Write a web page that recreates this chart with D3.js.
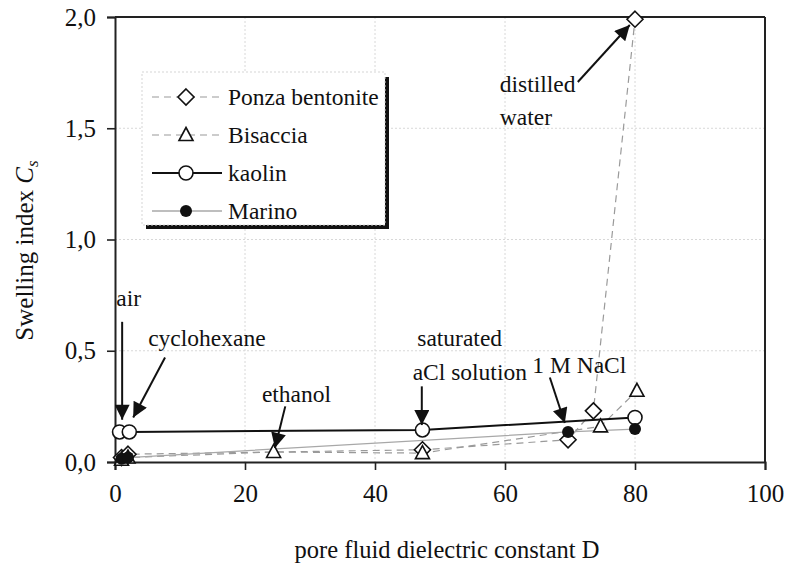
<!DOCTYPE html>
<html>
<head>
<meta charset="utf-8">
<script src="https://cdn.jsdelivr.net/npm/d3@7"></script>
<style>
	body { margin: 0; background: #fff; }
	svg text { font-family: "Liberation Serif", "Times New Roman", serif; fill: #111; }
</style>
</head>
<body>
<svg id="chart" width="788" height="567"></svg>
<script>

// Data

var xTicks = [0, 20, 40, 60, 80, 100];
var yTicks = [0, 0.5, 1.0, 1.5, 2.0];

var ponzaD = [1, 2, 47.3, 69.7, 73.6, 80];
var ponzaCs = [0.02, 0.035, 0.055, 0.10, 0.23, 1.99];

var bisacciaD = [1, 2, 24.4, 47.3, 74.7, 80.3];
var bisacciaCs = [0.01, 0.02, 0.045, 0.04, 0.16, 0.32];

var kaolinD = [0.7, 2.2, 47.3, 80];
var kaolinCs = [0.135, 0.135, 0.144, 0.20];

var marinoD = [1, 2, 69.7, 80];
var marinoCs = [0.015, 0.02, 0.135, 0.148];

var seriesNames = ["Ponza bentonite", "Bisaccia", "kaolin", "Marino"];

// annotation labels: text lines at [D, Cs], arrow from tail to tip
var notes = [
	{ lines: [["air", 0.2, 0.70]], tail: [1.1, 0.63], tip: [1.1, 0.19] },
	{ lines: [["cyclohexane", 5.1, 0.52]], tail: [7.7, 0.47], tip: [2.8, 0.20] },
	{ lines: [["ethanol", 22.6, 0.27]], tail: [26.2, 0.25], tip: [24.6, 0.063] },
	{ lines: [["saturated", 46.5, 0.52], ["aCl solution", 45.8, 0.37]], tail: [47.2, 0.34], tip: [47.2, 0.166] },
	{ lines: [["1 M NaCl", 64.2, 0.40]], tail: [66.9, 0.38], tip: [69.2, 0.175] },
	{ lines: [["distilled", 59.2, 1.663], ["water", 59.2, 1.515]], tail: [71.2, 1.708], tip: [79.2, 1.964] }
];

// Chart

var svg = d3.select("#chart");
var mLeft = 115, mRight = 765, mTop = 17, mBottom = 462;

var x = d3.scaleLinear().domain([0, 100]).range([mLeft, mRight]);
var y = d3.scaleLinear().domain([0, 2]).range([mBottom, mTop]);

function zip(ds, cs) {
	return ds.map(function(d, i) { return [d, cs[i]]; });
}

var series = [
	{ name: seriesNames[0], pts: zip(ponzaD, ponzaCs), marker: "diamond", stroke: "#9a9a9a", width: 1.2, dash: "7,5" },
	{ name: seriesNames[1], pts: zip(bisacciaD, bisacciaCs), marker: "triangle", stroke: "#9a9a9a", width: 1.2, dash: "7,5" },
	{ name: seriesNames[2], pts: zip(kaolinD, kaolinCs), marker: "circle", stroke: "#111", width: 2, dash: null },
	{ name: seriesNames[3], pts: zip(marinoD, marinoCs), marker: "dot", stroke: "#a8a8a8", width: 1.3, dash: null }
];

// grid
svg.append("g").selectAll("line").data(xTicks.slice(1, -1)).join("line")
	.attr("x1", function(d) { return x(d); }).attr("x2", function(d) { return x(d); })
	.attr("y1", mTop).attr("y2", mBottom)
	.attr("stroke", "#d8d8d8").attr("stroke-dasharray", "2,2");
svg.append("g").selectAll("line").data(yTicks.slice(1, -1)).join("line")
	.attr("x1", mLeft).attr("x2", mRight)
	.attr("y1", function(d) { return y(d); }).attr("y2", function(d) { return y(d); })
	.attr("stroke", "#d8d8d8").attr("stroke-dasharray", "2,2");

// axes
var fmt = function(d) { return d3.format(".1f")(d).replace(".", ","); };

var xAxis = svg.append("g").attr("transform", "translate(0," + mBottom + ")")
	.call(d3.axisBottom(x).tickValues(xTicks).tickSize(8).tickPadding(14));
var yAxis = svg.append("g").attr("transform", "translate(" + mLeft + ",0)")
	.call(d3.axisLeft(y).tickValues(yTicks).tickSize(8).tickPadding(11).tickFormat(fmt));

[xAxis, yAxis].forEach(function(a) {
	a.select(".domain").attr("stroke", "#222").attr("stroke-width", 2);
	a.selectAll(".tick line").attr("stroke", "#222").attr("stroke-width", 1.6);
	a.selectAll(".tick text").style("font-family", "Liberation Serif").style("font-size", "25px").attr("fill", "#111");
});

// frame top and right
svg.append("line").attr("x1", mLeft).attr("x2", mRight).attr("y1", mTop).attr("y2", mTop)
	.attr("stroke", "#222").attr("stroke-width", 2);
svg.append("line").attr("x1", mRight).attr("x2", mRight).attr("y1", mTop).attr("y2", mBottom)
	.attr("stroke", "#222").attr("stroke-width", 2);

// lines
var line = d3.line().x(function(d) { return x(d[0]); }).y(function(d) { return y(d[1]); });

series.forEach(function(s) {
	svg.append("path").datum(s.pts).attr("d", line)
		.attr("fill", "none").attr("stroke", s.stroke).attr("stroke-width", s.width)
		.attr("stroke-dasharray", s.dash);
});

function drawMarker(g, type, cx, cy) {
	if (type == "diamond") {
		g.append("path").attr("d", "M" + cx + "," + (cy - 8) + "L" + (cx + 8) + "," + cy + "L" + cx + "," + (cy + 8) + "L" + (cx - 8) + "," + cy + "Z")
			.attr("fill", "#fff").attr("stroke", "#111").attr("stroke-width", 1.6);
	} else if (type == "triangle") {
		g.append("path").attr("d", "M" + cx + "," + (cy - 7.5) + "L" + (cx + 7) + "," + (cy + 5.5) + "L" + (cx - 7) + "," + (cy + 5.5) + "Z")
			.attr("fill", "#fff").attr("stroke", "#111").attr("stroke-width", 1.6);
	} else if (type == "circle") {
		g.append("circle").attr("cx", cx).attr("cy", cy).attr("r", 7)
			.attr("fill", "#fff").attr("stroke", "#111").attr("stroke-width", 1.6);
	} else {
		g.append("circle").attr("cx", cx).attr("cy", cy).attr("r", 6).attr("fill", "#111");
	}
}

var marks = svg.append("g");
[0, 1, 2, 3].forEach(function(i) {
	var s = series[i];
	s.pts.forEach(function(p) { drawMarker(marks, s.marker, x(p[0]), y(p[1])); });
});

// annotations
svg.append("defs").append("marker").attr("id", "head")
	.attr("viewBox", "0 0 10 10").attr("refX", 10).attr("refY", 5)
	.attr("markerWidth", 18).attr("markerHeight", 15).attr("markerUnits", "userSpaceOnUse")
	.attr("orient", "auto")
	.append("path").attr("d", "M0,0L10,5L0,10Z").attr("fill", "#111");

notes.forEach(function(n) {
	n.lines.forEach(function(l) {
		svg.append("text").attr("x", x(l[1])).attr("y", y(l[2]))
			.style("font-size", "23.5px").text(l[0]);
	});
	svg.append("line")
		.attr("x1", x(n.tail[0])).attr("y1", y(n.tail[1]))
		.attr("x2", x(n.tip[0])).attr("y2", y(n.tip[1]))
		.attr("stroke", "#111").attr("stroke-width", 2).attr("marker-end", "url(#head)");
});

// legend
var lg = svg.append("g");
lg.append("line").attr("x1", 387).attr("x2", 387).attr("y1", 77).attr("y2", 229).attr("stroke", "#111").attr("stroke-width", 4);
lg.append("line").attr("x1", 146).attr("x2", 389).attr("y1", 227).attr("y2", 227).attr("stroke", "#111").attr("stroke-width", 4);
lg.append("rect").attr("x", 142).attr("y", 72).attr("width", 243).attr("height", 153)
	.attr("fill", "#fff").attr("stroke", "#d5d5d5").attr("stroke-dasharray", "2,2");

var rowY = d3.scalePoint().domain(seriesNames).range([97, 211]);

series.forEach(function(s) {
	var ry = rowY(s.name);
	lg.append("line").attr("x1", 152).attr("x2", 222).attr("y1", ry).attr("y2", ry)
		.attr("stroke", s.stroke).attr("stroke-width", s.width).attr("stroke-dasharray", s.dash);
	drawMarker(lg, s.marker, 186, ry);
	lg.append("text").attr("x", 228).attr("y", ry + 8).style("font-size", "23.5px").text(s.name);
});

// axis titles
svg.append("text").attr("x", (mLeft + mRight) / 2 + 7).attr("y", 558)
	.attr("text-anchor", "middle").style("font-size", "24.5px")
	.text("pore fluid dielectric constant D");

var yt = svg.append("text").attr("transform", "translate(33," + ((mTop + mBottom) / 2 + 11) + ") rotate(-90)")
	.attr("text-anchor", "middle").style("font-size", "25px");
yt.append("tspan").text("Swelling index  ");
yt.append("tspan").style("font-style", "italic").text("C");
yt.append("tspan").style("font-style", "italic").style("font-size", "17px").attr("dy", 5).text("s");

</script>
</body>
</html>
